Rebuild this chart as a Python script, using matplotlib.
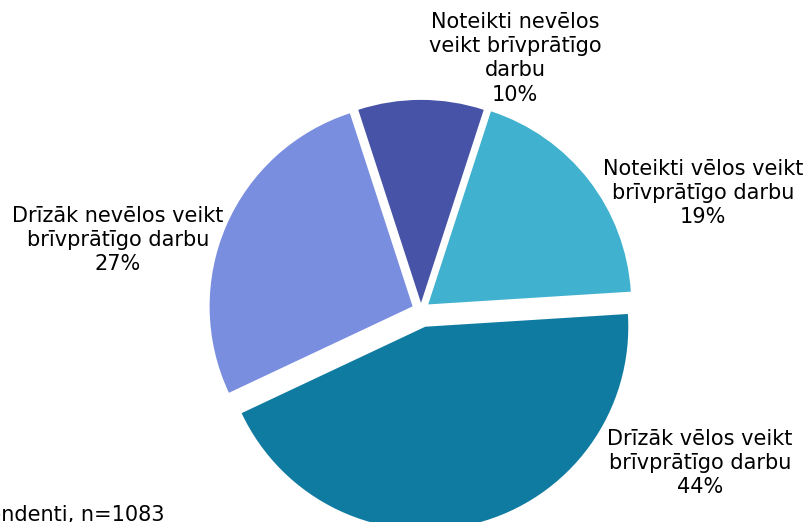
import matplotlib.pyplot as plt
import numpy as np

# data (clockwise from the top slice)
labels = ["Noteikti nevēlos\nveikt brīvprātīgo\ndarbu",
          "Noteikti vēlos veikt\nbrīvprātīgo darbu",
          "Drīzāk vēlos veikt\nbrīvprātīgo darbu",
          "Drīzāk nevēlos veikt\nbrīvprātīgo darbu"]
shares = [10, 19, 44, 27]
note = "Respondenti, n=1083"

colours = ["#4753A6", "#40B1CE", "#107BA0", "#7A8EDF"]
explode = [0.035, 0.045, 0.085, 0.045]
# where Excel put each label, in pie-radius units from the centre
label_xy = [(0.463, 1.241), (1.39, 0.576), (1.374, -0.754), (-1.493, 0.345)]

W, H = 808, 522
R = 203.0          # pie radius, px
cx, cy = 421, 212  # pie centre, px from bottom-left

fig = plt.figure(figsize=(W/100, H/100), dpi=100)
ax = fig.add_axes([0, 0, 1, 1])

wedges, _ = ax.pie(shares, colors=colours, explode=explode, startangle=108,
                   counterclock=False, radius=1.0)

for i in range(len(shares)):
    x, y = label_xy[i]
    ax.text(x, y, f"{labels[i]}\n{shares[i]}%", ha="center", va="center",
            fontsize=15, linespacing=1.27, color="black")

ax.set_xlim(-cx/R, (W-cx)/R)
ax.set_ylim(-cy/R, (H-cy)/R)
ax.set_aspect("auto")
ax.axis("off")

fig.text(164/W, 1-505/H, note, ha="right", va="top", fontsize=15,
         color="black")

fig.savefig("out.png", dpi=100)
